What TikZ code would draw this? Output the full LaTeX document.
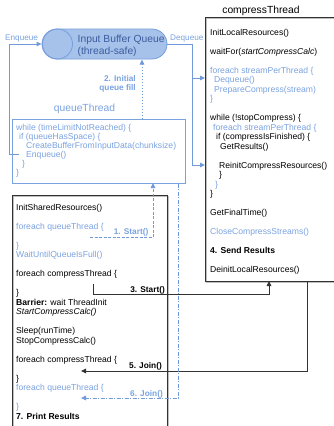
\documentclass[tikz,border=0pt]{standalone}
\usepackage{fontspec}
\setmainfont{Liberation Sans}
\usetikzlibrary{arrows.meta}
\definecolor{bt}{RGB}{122,162,224}
\definecolor{bl}{RGB}{112,154,218}
\definecolor{qfill}{RGB}{166,194,234}
\definecolor{qdraw}{RGB}{118,158,220}
\definecolor{qtext}{RGB}{60,92,158}
\definecolor{bx}{RGB}{50,50,50}
\begin{document}
\begin{tikzpicture}[x=1pt,y=-1pt,
  code/.style={anchor=base west, inner sep=0pt, align=left, font=\fontsize{8.6}{9.5}\selectfont},
  qcode/.style={anchor=base west, inner sep=0pt, align=left, text=bt, font=\fontsize{8.6}{9.1}\selectfont},
  title/.style={anchor=base, inner sep=0pt, font=\fontsize{10.3}{12}\selectfont},
  lbl/.style={anchor=base east, inner sep=0pt, font=\bfseries\fontsize{8.3}{9.5}\selectfont},
  side/.style={anchor=base west, inner sep=0pt, text=bt, font=\fontsize{8.2}{9.5}\selectfont},
  bluearrow/.style={draw=bl, line width=0.9pt, -{Triangle[length=5pt,width=4.5pt]}},
  blackarrow/.style={draw=bx, line width=0.9pt, -{Triangle[length=5pt,width=4.5pt]}},
  boxline/.style={draw=bx, line width=0.9pt},
  boxshadow/.style={draw=black!25, line width=1pt},
  queuebody/.style={draw=qdraw, fill=qfill, line width=0.8pt, rounded corners=15pt, minimum width=125pt, minimum height=30pt, inner sep=0pt},
  qtbox/.style={draw=bt, line width=0.8pt, minimum width=173pt, minimum height=64pt, anchor=north west, inner sep=0pt}
]
\useasboundingbox (0,0) rectangle (333,426);

% ---------- queue ----------
\node[queuebody] (queue) at (104.5,44) {};
\draw[draw=qdraw, line width=0.8pt] (57.5,44) circle (15);
% base anchor of a multi-line node = baseline of its last line
\node[anchor=base west, inner sep=0pt, align=left, text=qtext, font=\fontsize{10.3}{12}\selectfont] (qname) at (77.5,54.5) {Input Buffer Queue\\(thread-safe)};
\node[side] (enqlbl) at (5,40.5) {Enqueue};
\node[side] (deqlbl) at (170,40.5) {Dequeue};

% ---------- queueThread ----------
\node[title, text=bt] (qttitle) at (84.5,111.5) {queueThread};
\node[qtbox] (qt) at (12,119) {};
\node[qcode] (qtcode) at (16,175.5) {while (timeLimitNotReached) \{\\
\hspace*{3pt}if (queueHasSpace) \{\\
\hspace*{10pt}CreateBufferFromInputData(chunksize)\\
\hspace*{10pt}Enqueue()\\
\hspace*{6pt}\}\\
\}};

% ---------- compressThread ----------
\node[title] (cttitle) at (261,13.5) {compressThread};
\coordinate (ctNW) at (205,17);
\coordinate (ctSW) at (205,281);
\draw[boxshadow] (340,18) -- (206,18) -- (206,282) -- (340,282);
\draw[boxline] (340,17) -- (ctNW) -- (ctSW) -- (340,281);
\node[code] (ctcode) at (210,272.5) {InitLocalResources()\\[9.5pt]
waitFor(\textit{startCompressCalc})\\[9.5pt]
\textcolor{bt}{foreach streamPerThread \{}\\
\textcolor{bt}{\hspace*{4pt}Dequeue()}\\
\textcolor{bt}{\hspace*{4pt}PrepareCompress(stream)}\\
\textcolor{bt}{\}}\\[9.5pt]
while (!stopCompress) \{\\
\hspace*{3pt}\textcolor{bt}{foreach streamPerThread \{}\\
\hspace*{6pt}if (compressIsFinished) \{\\
\hspace*{10pt}GetResults()\\[9.5pt]
\hspace*{9pt}ReinitCompressResources()\\
\hspace*{9pt}\}\\
\hspace*{5pt}\textcolor{bt}{\}}\\
\}\\[9.5pt]
GetFinalTime()\\[9.5pt]
\textcolor{bt}{CloseCompressStreams()}\\[9.5pt]
\textbf{4. Send Results}\\[9.5pt]
DeinitLocalResources()};

% ---------- main thread ----------
\coordinate (mNW) at (12,195);
\coordinate (mNE) at (167,195);
\draw[boxshadow] (13,440) -- (13,196) -- (168,196) -- (168,440);
\draw[boxline] (12,440) -- (mNW) -- (mNE) -- (167,440);
\node[code] (maincode) at (16,419) {InitSharedResources()\\[9.5pt]
\textcolor{bt}{foreach queueThread \{}\\[9.5pt]
\textcolor{bt}{\}}\\
\textcolor{bt}{WaitUntilQueueIsFull()}\\[9.5pt]
foreach compressThread \{\\[9.5pt]
\}\\
\textbf{Barrier:} wait ThreadInit\\
\textit{StartCompressCalc()}\\[9.5pt]
Sleep(runTime)\\
StopCompressCalc()\\[9.5pt]
foreach compressThread \{\\[9.5pt]
\}\\
\textcolor{bt}{foreach queueThread \{}\\[9.5pt]
\textcolor{bt}{\}}\\
\textbf{7. Print Results}};

% ---------- connectors ----------
% Enqueue
\coordinate (enqsrc) at (19,154);
\draw[bluearrow] (enqsrc) -- (9,154) -- (9,44) -- (queue.west);
% Dequeue
\coordinate (deqA) at (205,78);
\coordinate (deqB) at (205,165);
\draw[bluearrow] (queue.east) -- (192,44) -- (192,165) -- (deqB);
\draw[bluearrow] (192,78) -- (deqA);
% 2. Initial queue fill
\coordinate (fillsrc) at (142,119);
\coordinate (filltgt) at (142,59.5);
\draw[bluearrow, dash pattern=on 1.5pt off 1.5pt] (fillsrc) -- (filltgt);
\node[lbl, text=bt, align=right] (filllbl) at (136,90.5) {2. Initial\\queue fill};
% 1. Start()
\coordinate (s1src) at (90,237);
\coordinate (s1tgt) at (153,183);
\draw[bluearrow, dash pattern=on 3pt off 1.5pt] (s1src) -- (153,237) -- (s1tgt);
\node[lbl, text=bt] (s1lbl) at (148.5,234) {1. Start()};
% 3. Start()
\coordinate (s3src) at (93,284);
\coordinate (s3tgt) at (269,281);
\draw[blackarrow] (s3src) -- (93,294) -- (269,294) -- (s3tgt);
\node[lbl] (s3lbl) at (165,292.5) {3. Start()};
% 5. Join()
\coordinate (j5src) at (307,281);
\coordinate (j5tgt) at (81,371);
\draw[blackarrow] (j5src) -- (307,371) -- (j5tgt);
\node[lbl] (j5lbl) at (162,368) {5. Join()};
% 6. Join()
\coordinate (j6src) at (178,183.5);
\coordinate (j6tgt) at (81,398);
\draw[bluearrow, dash pattern=on 4pt off 1.5pt on 1pt off 1.5pt] (j6src) -- (178,398) -- (j6tgt);
\node[lbl, text=bt] (j6lbl) at (163,396) {6. Join()};
\end{tikzpicture}
\end{document}
